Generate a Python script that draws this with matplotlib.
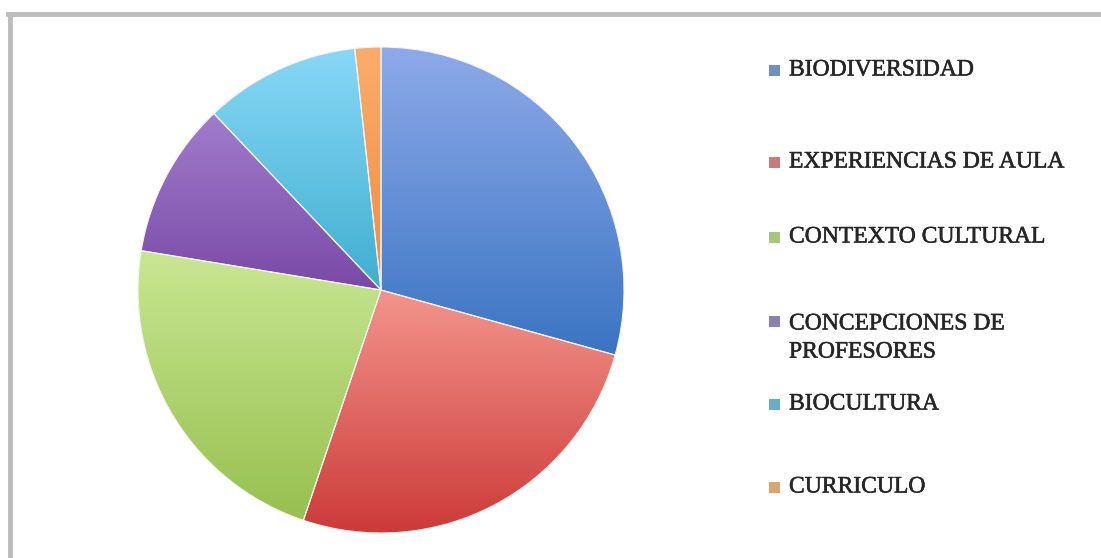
import numpy as np
import matplotlib
matplotlib.use("Agg")
import matplotlib.pyplot as plt
import matplotlib.patheffects as pe
from matplotlib.colors import LinearSegmentedColormap
from matplotlib.lines import Line2D

# ---- data ----
categories = ["BIODIVERSIDAD", "EXPERIENCIAS DE AULA", "CONTEXTO CULTURAL",
              "CONCEPCIONES DE\nPROFESORES", "BIOCULTURA", "CURRICULO"]
values = [17, 15, 13, 6, 6, 1]

# ---- styling ----
grad_top = ["#8eaaea", "#f3958c", "#c9e793", "#a07ccc", "#88d8f6", "#fbac6c"]
grad_bot = ["#3a74c2", "#cc3a38", "#97c04f", "#7a4aa6", "#40aed0", "#f08c40"]
legend_sq = ["#7090c0", "#c47c7c", "#a9c47c", "#8a80b2", "#6aaccc", "#dca472"]
label_y = [70, 162, 237, 338, 404, 487]   # pixel centres (from top)

W, H = 1101, 558
fig = plt.figure(figsize=(W / 100, H / 100), dpi=100)
fig.patch.set_facecolor("white")

cx, cy, r = 381, 290, 243
ax = fig.add_axes([(cx - r) / W, (H - cy - r) / H, 2 * r / W, 2 * r / H])
wedges, _ = ax.pie(values, colors=grad_bot, startangle=90, counterclock=False,
                   radius=1, wedgeprops=dict(edgecolor="#f4f4f4", linewidth=0.8))

grad = np.linspace(0, 1, 256).reshape(-1, 1)
for w, c1, c2 in zip(wedges, grad_top, grad_bot):
    ext = w.get_path().get_extents()
    cmap = LinearSegmentedColormap.from_list("g", [c1, c2])
    im = ax.imshow(grad, cmap=cmap, origin="upper", aspect="auto",
                   extent=(ext.x0, ext.x1, ext.y0, ext.y1), zorder=1,
                   interpolation="bilinear")
    im.set_clip_path(w)
    w.set_facecolor("none")
    w.set_zorder(2)

ax.set_xlim(-1.0, 1.0)
ax.set_ylim(-1.0, 1.0)
ax.set_aspect("equal")
ax.axis("off")

# legend drawn manually
for lab, col, yc in zip(categories, legend_sq, label_y):
    nlines = lab.count("\n") + 1
    yfirst = yc - (nlines - 1) * 35 / 2
    fig.patches.append(plt.Rectangle((769 / W, 1 - (yfirst + 6) / H), 11 / W, 11 / H,
                                     transform=fig.transFigure, facecolor=col,
                                     edgecolor="none"))
    fig.text(789 / W, 1 - yc / H, lab, fontsize=17, family="Liberation Serif",
             color="#262626", va="center", ha="left", linespacing=1.45,
             path_effects=[pe.withStroke(linewidth=0.4, foreground="#262626")])

# frame lines (top and left)
fig.add_artist(Line2D([8 / W, 1], [1 - 14 / H, 1 - 14 / H], color="#bcbcbc",
                      linewidth=3.5, transform=fig.transFigure))
fig.add_artist(Line2D([9.5 / W, 9.5 / W], [0, 1 - 14 / H], color="#bcbcbc",
                      linewidth=3.5, transform=fig.transFigure))

fig.savefig("out.png", dpi=100, facecolor="white")
